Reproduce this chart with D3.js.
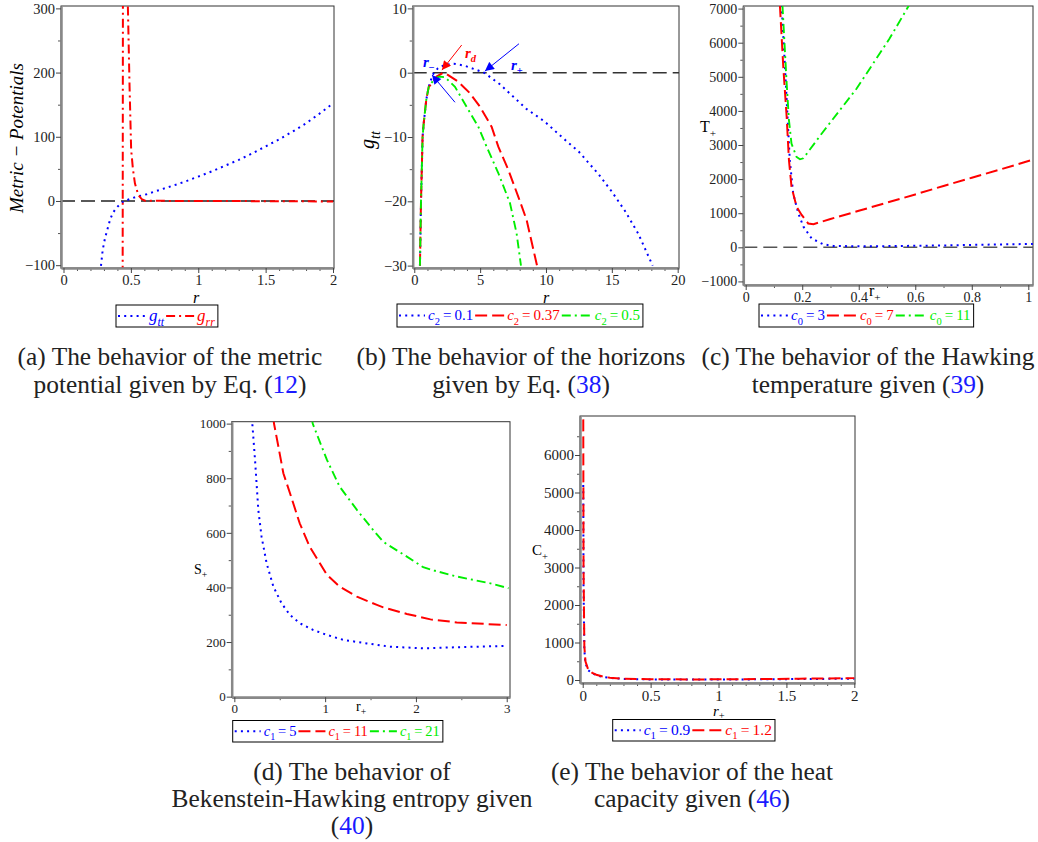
<!DOCTYPE html>
<html><head><meta charset="utf-8">
<script src="https://cdn.jsdelivr.net/npm/d3@7"></script>
<style>
body{margin:0;background:#fff}
svg{display:block}
svg text{font-family:'Liberation Serif','DejaVu Serif','Noto Serif',Tinos,'Times New Roman',serif !important}
</style>
</head><body>
<script>
// ---------------- DATA ----------------
// (a) metric potentials
const a_r_gtt = [0.278,0.291,0.308,0.325,0.345,0.365,0.39,0.419,0.45,0.494,0.543,0.617,0.69,0.8,0.9,1.0,1.1,1.2,1.3,1.4,1.5,1.6,1.7,1.8,1.9,2.0];
const a_gtt   = [-101,-76,-58,-45,-29.6,-19,-11.4,-5,0,3,6.7,10.4,15.6,23,30,38,46,55,64,74,85,96,108,121,136,152];
const a_r_grr = [0.439,0.441,0.477,0.49,0.502,0.515,0.53,0.555,0.58,0.605,0.7,1.0,1.5,2.0];
const a_grr   = [-115,330,310,180,80,50,27.5,9.3,3,0.5,0.2,0,-0.3,-0.8];
const aXTicks = [0,0.5,1,1.5,2], aYTicks = [-100,0,100,200,300];

// (b) horizons, c2 = 0.1, 0.37, 0.5
const b_r_1 = [0.43,0.51,0.63,0.71,0.91,1.1,1.4,1.8,2.3,3.0,3.8,4.5,5.3,6.5,7.5,8.5,9.9,11.2,12.5,14,15,16,17,18.1];
const b_v_1 = [-30,-20,-10,-8,-4.2,-2.2,-0.3,0.7,1.2,1.4,1.1,0.6,0,-1.8,-3.7,-5.6,-7.6,-10,-12.3,-15.8,-18.5,-21.5,-25,-30];
const b_r_2 = [0.43,0.51,0.63,0.71,0.91,1.1,1.3,1.7,2.2,2.45,3.34,4.23,4.99,5.87,6.38,7.14,7.9,8.53,9.32];
const b_v_2 = [-30,-20,-10,-8,-4.2,-2.2,-1.8,-0.6,0,-0.2,-1.4,-3.2,-5.3,-8.4,-11.5,-15.1,-19.3,-22.9,-30];
const b_r_3 = [0.43,0.51,0.63,0.71,0.91,1.1,1.3,1.6,1.9,2.33,3.09,3.97,4.86,5.49,6.38,7.27,7.77,8.1];
const b_v_3 = [-30,-20,-10,-8,-4.2,-2.2,-1.6,-0.9,-0.6,-0.7,-2.2,-5.3,-8.4,-11.5,-15.6,-20.3,-25,-30];
const bXTicks = [0,5,10,15,20], bYTicks = [-30,-20,-10,0,10];
const bArrowFrom = [[3.09,-4.6],[3.6,4.3],[7.95,4.5]];
const bArrowTo   = [[1.35,-0.36],[2.1,0.4],[5.37,0.26]];
const bArrowColor = ["#0000ff","#ff0000","#0000ff"];
const bLabelPos = [[0.66,0.9],[3.85,2.3],[7.34,0.42]];
const bLabelSub = ["\u2212","d","+"];

// (c) Hawking temperature, c0 = 3, 7, 11
const c_r_1 = [0.127,0.139,0.148,0.156,0.168,0.186,0.204,0.233,0.274,0.31,0.4,0.5,0.6,0.7,0.8,0.9,1.016];
const c_v_1 = [7100,5290,3820,2560,1580,1000,610,260,90,40,30,35,45,55,70,85,100];
const c_r_2 = [0.121,0.133,0.145,0.153,0.162,0.18,0.198,0.221,0.24,0.3,0.4,0.5,0.6,0.7,0.8,0.9,1.016];
const c_v_2 = [7100,5290,3820,2560,1780,1190,950,700,680,830,1070,1310,1550,1800,2040,2280,2570];
const c_r_3 = [0.13,0.145,0.153,0.162,0.18,0.192,0.204,0.274,0.392,0.509,0.578];
const c_v_3 = [7100,4800,3730,3040,2650,2580,2610,3390,4650,6120,7100];
const cXTicks = [0,0.2,0.4,0.6,0.8,1], cYTicks = [-1000,0,1000,2000,3000,4000,5000,6000,7000];

// (d) entropy, c1 = 5, 11, 21
const d_r_1 = [0.19,0.198,0.228,0.264,0.3,0.356,0.43,0.52,0.613,0.72,0.87,1.02,1.2,1.46,1.71,2.08,2.45,3.0];
const d_v_1 = [1020,1000,867,684,586,488,403,342,299,269,244,226,208,195,183,177,181,186];
const d_r_2 = [0.43,0.437,0.485,0.54,0.613,0.72,0.83,1.02,1.16,1.35,1.57,1.64,1.9,2.16,2.45,3.0];
const d_v_2 = [1020,1000,916,818,745,635,549,446,403,366,336,327,303,283,272,262];
const d_r_3 = [0.855,0.863,1.02,1.16,1.35,1.53,1.64,1.9,2.08,2.2,2.45,2.82,3.02];
const d_v_3 = [1020,1000,867,769,684,610,567,513,474,462,440,415,397];
const dXTicks = [0,1,2,3], dYTicks = [0,200,400,600,800,1000];

// (e) heat capacity, c1 = 0.9, 1.2
const e_r_1 = [0.004,0.006,0.012,0.02,0.04,0.07,0.1,0.15,0.2,0.3,0.5,0.8,1.0,1.3,1.6,2.0];
const e_v_1 = [5200,2500,800,450,260,180,130,80,55,30,15,10,12,18,25,35];
const e_r_2 = [0.004,0.006,0.012,0.02,0.04,0.07,0.1,0.15,0.2,0.3,0.5,0.8,1.0,1.3,1.6,2.0];
const e_v_2 = [6950,3000,900,500,280,190,140,90,60,35,20,15,18,25,35,50];
const eXTicks = [0,0.5,1,1.5,2], eYTicks = [0,1000,2000,3000,4000,5000,6000];

// ---------------- STYLE ----------------
const BLUE="#0000ff", RED="#ff0000", GREEN="#00ee00";
const DOT="2,4.2", DASH="12,5", DASHDOT="9,4,2,4";
const SERIF="'Liberation Serif','DejaVu Serif','Noto Serif',Tinos,serif";
const TS="\u2009";

const W=1038, H=842;
const svg = d3.select("body").append("svg").attr("width",W).attr("height",H)
  .attr("font-family",SERIF);
svg.append("rect").attr("width",W).attr("height",H).attr("fill","#fff");
const defs = svg.append("defs");

function fmt(d){ return String(d).replace("-","\u2212"); }

function rich(t, parts, fs, drop){
  const dd=(drop||0.3)*fs;
  let prevSub=false;
  t.attr("font-family",SERIF);
  parts.forEach(p=>{
    const ts=t.append("tspan").text(p.t);
    if(p.it) ts.attr("font-style","italic");
    if(p.fill) ts.attr("fill",p.fill);
    if(p.sub){ ts.attr("font-size",fs*0.7).attr("dy", prevSub?0:dd); prevSub=true; }
    else { if(prevSub) ts.attr("dy",-dd); prevSub=false; }
  });
  return t;
}

function panel(p){
  const g=svg.append("g");
  const x=d3.scaleLinear().domain(p.xDom).range([p.l,p.r]);
  const y=d3.scaleLinear().domain(p.yDom).range([p.b,p.t]);
  const id="clip_"+p.name;
  defs.append("clipPath").attr("id",id).append("rect")
    .attr("x",p.l).attr("y",p.t).attr("width",p.r-p.l).attr("height",p.b-p.t);
  g.append("rect").attr("x",p.l).attr("y",p.t).attr("width",p.r-p.l).attr("height",p.b-p.t)
    .attr("fill","none").attr("stroke","#333").attr("stroke-width",1);
  if(p.zero){
    g.append("line").attr("x1",p.l).attr("x2",p.r).attr("y1",y(0)).attr("y2",y(0))
      .attr("stroke",p.zero).attr("stroke-width",1.4).attr("stroke-dasharray","14,6");
  }
  const line=d3.line().x(d=>x(d[0])).y(d=>y(d[1]));
  const pg=g.append("g").attr("clip-path",`url(#${id})`);
  p.series.forEach(s=>{
    pg.append("path").datum(d3.zip(s.x,s.y)).attr("d",line).attr("fill","none")
      .attr("stroke",s.c).attr("stroke-width",s.w||2).attr("stroke-dasharray",s.dash);
  });
  g.append("g").attr("transform",`translate(0,${p.b})`)
    .call(d3.axisBottom(x).tickValues(p.xMinor).tickSize(3).tickFormat(""))
    .call(a=>{a.select(".domain").remove(); a.selectAll("line").attr("stroke","#555");});
  g.append("g").attr("transform",`translate(${p.l},0)`)
    .call(d3.axisLeft(y).tickValues(p.yMinor).tickSize(3).tickFormat(""))
    .call(a=>{a.select(".domain").remove(); a.selectAll("line").attr("stroke","#555");});
  const fs=p.fs;
  const styleAx=a=>{a.attr("font-family",SERIF).attr("font-size",fs);
      a.select(".domain").attr("stroke","#888").attr("stroke-width",2.5);
      a.selectAll("line").attr("stroke","#444");
      a.selectAll("text").attr("fill","#222");};
  g.append("g").attr("transform",`translate(0,${p.b})`)
    .call(d3.axisBottom(x).tickValues(p.xTicks).tickSize(5).tickSizeOuter(0).tickPadding(2).tickFormat(fmt))
    .call(styleAx);
  g.append("g").attr("transform",`translate(${p.l},0)`)
    .call(d3.axisLeft(y).tickValues(p.yTicks).tickSize(5).tickSizeOuter(0).tickPadding(1).tickFormat(fmt))
    .call(styleAx);
  return {g,x,y};
}

function legend(x0,y0,h,items,fs){
  const g=svg.append("g");
  const box=g.append("rect").attr("x",x0).attr("y",y0).attr("height",h)
    .attr("fill","#fff").attr("stroke","#000").attr("stroke-width",1);
  let cx=x0+2; const cy=y0+h/2;
  items.forEach(it=>{
    g.append("line").attr("x1",cx).attr("x2",cx+it.L).attr("y1",cy).attr("y2",cy)
      .attr("stroke",it.c).attr("stroke-width",2.2).attr("stroke-dasharray",it.dash);
    cx+=it.L+3;
    const t=g.append("text").attr("x",cx).attr("y",cy+4.5).attr("font-size",fs).attr("fill",it.c);
    rich(t,it.parts,fs);
    cx+=t.node().getComputedTextLength()+2;
  });
  box.attr("width",cx-x0+1);
}

function cLab(n,v){ return [{t:"c",it:true},{t:n,sub:true},{t:TS+"="+TS+v}]; }

// ---------------- PANEL (a) ----------------
const A=panel({name:"a",l:61,r:334,t:6,b:268,xDom:[-0.0186,2.0074],yDom:[-104.4,303.7],fs:14.5,
  xTicks:aXTicks,yTicks:aYTicks,
  xMinor:d3.range(0.1,2,0.1).filter((d,i)=>(i+1)%5!==0),yMinor:[-50,50,150,250],
  zero:"#222",
  series:[{x:a_r_gtt,y:a_gtt,c:BLUE,dash:DOT},{x:a_r_grr,y:a_grr,c:RED,dash:DASHDOT}]});
svg.append("text").attr("x",196).attr("y",302.5).attr("font-size",16).attr("font-style","italic")
  .attr("text-anchor","middle").text("r");
svg.append("text").attr("transform","translate(23,138) rotate(-90)").attr("font-size",19)
  .attr("font-style","italic").attr("text-anchor","middle").text("Metric \u2212 Potentials");
legend(116,305,22,[
  {c:BLUE,dash:DOT,L:28,parts:[{t:"g",it:true},{t:"tt",it:true,sub:true}]},
  {c:RED,dash:DASHDOT,L:28,parts:[{t:"g",it:true},{t:"rr",it:true,sub:true}]}],17);

// ---------------- PANEL (b) ----------------
const B=panel({name:"b",l:412.7,r:679,t:6,b:268,xDom:[-0.12,20.1],yDom:[-30.37,10.37],fs:14.5,
  xTicks:bXTicks,yTicks:bYTicks,
  xMinor:d3.range(1,20).filter(d=>d%5!==0),yMinor:[-25,-15,-5,5],
  zero:"#333",
  series:[{x:b_r_1,y:b_v_1,c:BLUE,dash:DOT},{x:b_r_2,y:b_v_2,c:RED,dash:DASH},
          {x:b_r_3,y:b_v_3,c:GREEN,dash:DASHDOT,w:1.9}]});
bArrowColor.forEach((col,i)=>{
  const mid="arr"+i;
  defs.append("marker").attr("id",mid).attr("viewBox","0 0 10 10").attr("refX",10).attr("refY",5)
    .attr("markerWidth",11).attr("markerHeight",9).attr("markerUnits","userSpaceOnUse").attr("orient","auto")
    .append("path").attr("d","M0,0 L10,5 L0,10 Z").attr("fill",col);
  svg.append("line").attr("x1",B.x(bArrowFrom[i][0])).attr("y1",B.y(bArrowFrom[i][1]))
    .attr("x2",B.x(bArrowTo[i][0])).attr("y2",B.y(bArrowTo[i][1]))
    .attr("stroke",col).attr("stroke-width",1).attr("marker-end",`url(#${mid})`);
  const t=svg.append("text").attr("x",B.x(bLabelPos[i][0])).attr("y",B.y(bLabelPos[i][1]))
    .attr("font-size",15).attr("font-weight","bold").attr("fill",col);
  rich(t,[{t:"r",it:true},{t:bLabelSub[i],sub:true,it:i===1}],15);
});
svg.append("text").attr("x",546).attr("y",302.5).attr("font-size",16).attr("font-style","italic")
  .attr("text-anchor","middle").text("r");
{
  const t=svg.append("text").attr("transform","translate(374,140) rotate(-90)").attr("font-size",20)
    .attr("text-anchor","middle");
  rich(t,[{t:"g",it:true},{t:"tt",it:true,sub:true}],20);
}
legend(397,304,23,[
  {c:BLUE,dash:DOT,L:26,parts:cLab("2","0.1")},
  {c:RED,dash:DASH,L:29,parts:cLab("2","0.37")},
  {c:GREEN,dash:DASHDOT,L:30,parts:cLab("2","0.5")}],15);

// ---------------- PANEL (c) ----------------
const C=panel({name:"c",l:743.3,r:1033,t:6,b:285,xDom:[-0.0085,1.0166],yDom:[-1105,7076],fs:14,
  xTicks:cXTicks,yTicks:cYTicks,
  xMinor:[0.1,0.3,0.5,0.7,0.9],yMinor:d3.range(-500,7000,1000),
  zero:"#555",
  series:[{x:c_r_1,y:c_v_1,c:BLUE,dash:DOT},{x:c_r_2,y:c_v_2,c:RED,dash:DASH},
          {x:c_r_3,y:c_v_3,c:GREEN,dash:DASHDOT,w:1.9}]});
rich(svg.append("text").attr("x",869).attr("y",296).attr("font-size",16),[{t:"r"},{t:"+",sub:true}],16);
rich(svg.append("text").attr("x",700).attr("y",132).attr("font-size",16),[{t:"T"},{t:"+",sub:true}],16);
legend(759,304,23,[
  {c:BLUE,dash:DOT,L:27,parts:cLab("0","3")},
  {c:RED,dash:DASH,L:30,parts:cLab("0","7")},
  {c:GREEN,dash:DASHDOT,L:31,parts:cLab("0","11")}],15);

// ---------------- PANEL (d) ----------------
const Dp=panel({name:"d",l:231.7,r:510,t:421.7,b:697.2,xDom:[-0.029,3.036],yDom:[-2,1007],fs:13,
  xTicks:dXTicks,yTicks:dYTicks,
  xMinor:[0.5,1.5,2.5],yMinor:[100,300,500,700,900],
  zero:null,
  series:[{x:d_r_1,y:d_v_1,c:BLUE,dash:DOT},{x:d_r_2,y:d_v_2,c:RED,dash:DASH},
          {x:d_r_3,y:d_v_3,c:GREEN,dash:DASHDOT,w:1.9}]});
rich(svg.append("text").attr("x",356).attr("y",711).attr("font-size",14),[{t:"r"},{t:"+",sub:true}],14);
rich(svg.append("text").attr("x",194).attr("y",574).attr("font-size",14),[{t:"S"},{t:"+",sub:true}],14);
legend(232.7,720.5,21.5,[
  {c:BLUE,dash:DOT,L:26,parts:cLab("1","5")},
  {c:RED,dash:DASH,L:27,parts:cLab("1","11")},
  {c:GREEN,dash:DASHDOT,L:27,parts:cLab("1","21")}],14.5);

// ---------------- PANEL (e) ----------------
const Ep=panel({name:"e",l:580,r:855,t:416,b:683,xDom:[-0.02,2.005],yDom:[-80,7040],fs:15,
  xTicks:eXTicks,yTicks:eYTicks,
  xMinor:d3.range(0.1,2,0.1).filter((d,i)=>(i+1)%5!==0),yMinor:d3.range(500,7000,1000),
  zero:null,
  series:[{x:e_r_1,y:e_v_1,c:BLUE,dash:DOT},{x:e_r_2,y:e_v_2,c:RED,dash:DASH}]});
rich(svg.append("text").attr("x",713).attr("y",716).attr("font-size",15),[{t:"r",it:true},{t:"+",sub:true}],15,0.2);
rich(svg.append("text").attr("x",532).attr("y",555).attr("font-size",15),[{t:"C"},{t:"+",sub:true}],15);
legend(612.7,719.5,21.5,[
  {c:BLUE,dash:DOT,L:26,parts:cLab("1","0.9")},
  {c:RED,dash:DASH,L:30,parts:cLab("1","1.2")}],15.5);

// ---------------- CAPTIONS ----------------
const probe=svg.append("text").attr("font-size",20).text("(a) The behavior of the metric");
const capFs=20*305/probe.node().getComputedTextLength();
probe.remove();
const captions=[
  {x:170,y:[365,393],lines:[["(a) The behavior of the metric"],["potential given by Eq. (","12",")"]]},
  {x:521,y:[365,393],lines:[["(b) The behavior of the horizons"],["given by Eq. (","38",")"]]},
  {x:868,y:[365,393],lines:[["(c) The behavior of the Hawking"],["temperature given (","39",")"]]},
  {x:352,y:[780,807,834],lines:[["(d) The behavior of"],["Bekenstein-Hawking entropy given"],["(","40",")"]]},
  {x:692,y:[780,807],lines:[["(e) The behavior of the heat"],["capacity given (","46",")"]]}
];
captions.forEach(c=>{
  c.lines.forEach((ln,i)=>{
    const t=svg.append("text").attr("x",c.x).attr("y",c.y[i]).attr("font-size",capFs)
      .attr("text-anchor","middle").attr("fill","#222");
    ln.forEach((s,j)=>t.append("tspan").text(s).attr("fill",j===1?"#1a1aff":"#222"));
  });
});
</script>
</body></html>
